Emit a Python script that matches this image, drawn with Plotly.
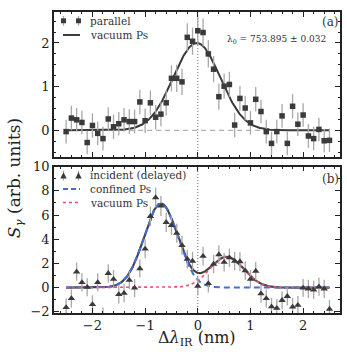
import numpy as np
import plotly.graph_objects as go

# ---------------- data ----------------
x_delta = [-2.5, -2.4, -2.3, -2.2, -2.1, -2.0, -1.9, -1.8, -1.7, -1.6, -1.5, -1.4, -1.3,
           -1.2, -1.1, -1.0, -0.9, -0.8, -0.7, -0.6, -0.5, -0.4, -0.3, -0.2, -0.1, 0.0,
           0.1, 0.2, 0.3, 0.4, 0.5, 0.6, 0.7, 0.8, 0.9, 1.0, 1.1, 1.2, 1.3, 1.4, 1.5,
           1.6, 1.7, 1.8, 1.9, 2.0, 2.1, 2.2, 2.3, 2.4, 2.5]

parallel = [-0.03, 0.28, 0.24, 0.18, -0.28, 0.11, -0.07, -0.19, 0.26, 0.08, 0.15, 0.24, 0.20,
            0.20, 0.65, 0.22, 0.63, 0.30, 0.37, 0.63, 1.19, 1.19, 1.11, 2.13, 2.04, 2.28,
            2.24, 1.75, 1.40, 0.77, 1.01, 1.05, 0.12, 0.73, 0.51, 0.17, 0.71, 0.43, -0.03,
            -0.30, -0.03, 0.33, -0.30, 0.55, 0.14, 0.35, -0.13, -0.19, 0.02, -0.24, -0.23]
parallel_err = [0.27, 0.28, 0.27, 0.27, 0.27, 0.28, 0.27, 0.27, 0.27, 0.28, 0.27, 0.27, 0.28,
                0.27, 0.28, 0.28, 0.28, 0.28, 0.28, 0.29, 0.30, 0.31, 0.30, 0.32, 0.31, 0.33,
                0.32, 0.31, 0.30, 0.30, 0.29, 0.29, 0.28, 0.28, 0.28, 0.27, 0.28, 0.27, 0.27,
                0.27, 0.27, 0.27, 0.27, 0.28, 0.27, 0.27, 0.27, 0.27, 0.27, 0.27, 0.27]

incident = [-1.64, -0.90, 1.31, 0.43, 0.03, -1.39, 0.43, -2.40, 1.18, 0.70, -0.56, -0.46, 0.62,
            -0.03, 1.58, 3.20, 5.90, 7.45, 6.75, 5.40, 5.15, 4.50, 3.50, 2.36, 2.20, 0.13,
            2.60, 0.35, 1.95, 2.73, 2.10, 2.47, 2.20, 2.15, 1.40, 0.70, 1.37, -0.50, -0.90,
            -1.58, -1.70, -1.05, -0.72, -1.60, -1.45, -0.03, -0.10, -0.19, 0.08, -0.10, -1.77]
incident_err = [0.75, 0.75, 0.75, 0.75, 0.75, 0.75, 0.75, 0.75, 0.75, 0.75, 0.75, 0.75, 0.75,
                0.75, 0.75, 0.78, 0.80, 0.82, 0.82, 0.80, 0.80, 0.78, 0.78, 0.77, 0.77, 0.76,
                0.77, 0.76, 0.77, 0.77, 0.77, 0.77, 0.77, 0.77, 0.76, 0.76, 0.76, 0.75, 0.75,
                0.75, 0.75, 0.75, 0.75, 0.75, 0.75, 0.75, 0.75, 0.75, 0.75, 0.75, 0.75]

# fit parameters (amplitude, centre, sigma)
vac_top = (2.00, -0.02, 0.445)
confined_fit = (6.95, -0.70, 0.32)
vacuum_fit = (2.55, 0.55, 0.32)

x_tick_vals = [-2, -1, 0, 1, 2]
x_tick_text = ["\u22122", "\u22121", "0", "1", "2"]
ya_tick_vals = [0, 1, 2]
yb_tick_vals = [-2, 0, 2, 4, 6, 8, 10]
yb_tick_text = ["\u22122", "0", "2", "4", "6", "8", "10"]

# ---------------- helpers ----------------
def gauss(x, p):
    a, m, s = p
    return a * np.exp(-(x - m) ** 2 / (2 * s ** 2))

xf = np.linspace(min(x_delta), max(x_delta), 500)

FONT = "DejaVu Serif"
DARK = "#3a3a3a"
ERRC = "#a8a8a8"
BLUE = "#3f6fdc"
RED = "#e8506e"

W, H = 347, 352
L, R, T, B = 54, 7, 5, 39
PH = H - T - B
top_dom = [(H - B - 153.3) / PH, 1.0]
bot_dom = [0.0, (H - B - 163.3) / PH]

fig = go.Figure()

# top panel
fig.add_trace(go.Scatter(x=xf, y=gauss(xf, vac_top), mode="lines",
                         line=dict(color=DARK, width=2), xaxis="x", yaxis="y",
                         showlegend=False))
fig.add_trace(go.Scatter(x=x_delta, y=parallel, mode="markers",
                         marker=dict(symbol="square", size=5.5, color=DARK),
                         error_y=dict(type="data", array=parallel_err, color=ERRC,
                                      thickness=1.3, width=0),
                         xaxis="x", yaxis="y", showlegend=False))

# bottom panel
fig.add_trace(go.Scatter(x=xf, y=gauss(xf, confined_fit) + gauss(xf, vacuum_fit),
                         mode="lines", line=dict(color="#444444", width=2.2),
                         xaxis="x2", yaxis="y2", showlegend=False))
fig.add_trace(go.Scatter(x=xf, y=gauss(xf, confined_fit), mode="lines",
                         line=dict(color=BLUE, width=2, dash="6px,4px"),
                         xaxis="x2", yaxis="y2", showlegend=False))
fig.add_trace(go.Scatter(x=xf, y=gauss(xf, vacuum_fit), mode="lines",
                         line=dict(color=RED, width=1.6, dash="dot"),
                         xaxis="x2", yaxis="y2", showlegend=False))
fig.add_trace(go.Scatter(x=x_delta, y=incident, mode="markers",
                         marker=dict(symbol="triangle-up", size=6.5, color=DARK),
                         error_y=dict(type="data", array=incident_err, color=ERRC,
                                      thickness=1.3, width=0),
                         xaxis="x2", yaxis="y2", showlegend=False))

# reference lines
fig.add_shape(type="line", xref="x", yref="y", x0=min(x_delta), x1=max(x_delta), y0=0, y1=0,
              line=dict(color="#b0b0b0", width=1.2, dash="5px,4px"), layer="below")
for xr, yr in (("x", "y domain"), ("x2", "y2 domain")):
    fig.add_shape(type="line", xref=xr, yref=yr, x0=0, x1=0, y0=0, y1=1,
                  line=dict(color="#666666", width=1, dash="1px,2px"), layer="below")

axis_common = dict(showline=True, linecolor="#222222", linewidth=1.5, mirror="allticks",
                   ticks="inside", ticklen=5, tickwidth=1.2, tickcolor="#222222",
                   showgrid=False, zeroline=False,
                   tickfont=dict(family=FONT, size=13, color="#222222"))

fig.update_layout(
    width=W, height=H,
    margin=dict(l=L, r=R, t=T, b=B),
    paper_bgcolor="white", plot_bgcolor="white",
    xaxis=dict(domain=[0, 1], anchor="y", range=[-2.73, 2.70], tickvals=x_tick_vals,
               showticklabels=False,
               minor=dict(dtick=0.2, ticks="inside", ticklen=2.5, tickcolor="#222222"),
               **axis_common),
    yaxis=dict(domain=top_dom, anchor="x", range=[-0.61, 2.71], tickvals=ya_tick_vals,
               minor=dict(dtick=0.25, ticks="inside", ticklen=2.5, tickcolor="#222222"),
               **axis_common),
    xaxis2=dict(domain=[0, 1], anchor="y2", range=[-2.73, 2.70], tickvals=x_tick_vals,
                ticktext=x_tick_text,
                minor=dict(dtick=0.2, ticks="inside", ticklen=2.5, tickcolor="#222222"),
                **axis_common),
    yaxis2=dict(domain=bot_dom, anchor="x2", range=[-2.1, 10], tickvals=yb_tick_vals,
                ticktext=yb_tick_text,
                minor=dict(dtick=1, ticks="inside", ticklen=2.5, tickcolor="#222222"),
                **axis_common),
)

# ---------------- manual legends & labels ----------------
def px2p(px, py):
    return (px - L) / (W - L - R), (H - B - py) / PH

def text_at(px, py, s, size, xanchor="left", color="#333333", yanchor="middle"):
    x, y = px2p(px, py)
    fig.add_annotation(x=x, y=y, xref="paper", yref="paper", text=s, showarrow=False,
                       xanchor=xanchor, yanchor=yanchor,
                       font=dict(family=FONT, size=size, color=color))

def seg(px0, px1, py, color, width, dash="solid"):
    x0, y0 = px2p(px0, py)
    x1, _ = px2p(px1, py)
    fig.add_shape(type="line", xref="paper", yref="paper", x0=x0, x1=x1, y0=y0, y1=y0,
                  line=dict(color=color, width=width, dash=dash))

def errbar(px, py, half):
    x, y0 = px2p(px, py - half)
    _, y1 = px2p(px, py + half)
    fig.add_shape(type="line", xref="paper", yref="paper", x0=x, x1=x, y0=y0, y1=y1,
                  line=dict(color=ERRC, width=1.3))

def square(px, py, s=2.5):
    x0, y0 = px2p(px - s, py + s)
    x1, y1 = px2p(px + s, py - s)
    fig.add_shape(type="rect", xref="paper", yref="paper", x0=x0, x1=x1, y0=y0, y1=y1,
                  line=dict(width=0), fillcolor=DARK)

def triangle(px, py, s=3.2):
    a = px2p(px - s, py + s * 0.9)
    b = px2p(px + s, py + s * 0.9)
    c = px2p(px, py - s * 1.1)
    path = f"M {a[0]},{a[1]} L {b[0]},{b[1]} L {c[0]},{c[1]} Z"
    fig.add_shape(type="path", xref="paper", yref="paper", path=path,
                  line=dict(width=0), fillcolor=DARK)

# legend (a)
for gx in (63.5, 78.5):
    errbar(gx, 14, 5)
    square(gx, 14)
text_at(88, 14, "parallel", 10.5)
seg(63, 80, 28.5, DARK, 2)
text_at(88, 28.5, "vacuum Ps", 10.5)

# legend (b)
for gx in (63.5, 78.5):
    errbar(gx, 172.5, 5)
    triangle(gx, 172.5)
text_at(88, 172, "incident (delayed)", 10.5)
seg(63, 80, 186, BLUE, 2, "5px,3px")
text_at(88, 186, "confined Ps", 10.5)
seg(63, 80, 200, RED, 1.6, "dot")
text_at(88, 200, "vacuum Ps", 10.5)

# panel labels / annotation
text_at(330, 15.5, "(a)", 12, xanchor="center")
text_at(330, 176, "(b)", 12, xanchor="center")
text_at(276, 33.5, "\u03bb<sub>0</sub> = 753.895 \u00b1 0.032", 9, xanchor="center")

TC = "#222222"
# x axis title
text_at(197, 351.5, "\u0394<i>\u03bb</i><sub>IR</sub> (nm)", 16, xanchor="center",
        color=TC, yanchor="bottom")

# y axis title
xt, yt = px2p(15, 175)
fig.add_annotation(x=xt, y=yt, xref="paper", yref="paper", showarrow=False,
                   text="<i>S</i><sub><i>\u03b3</i></sub> (arb. units)", textangle=-90,
                   xanchor="center", yanchor="middle",
                   font=dict(family=FONT, size=17, color=TC))

fig.write_html("out.html")
